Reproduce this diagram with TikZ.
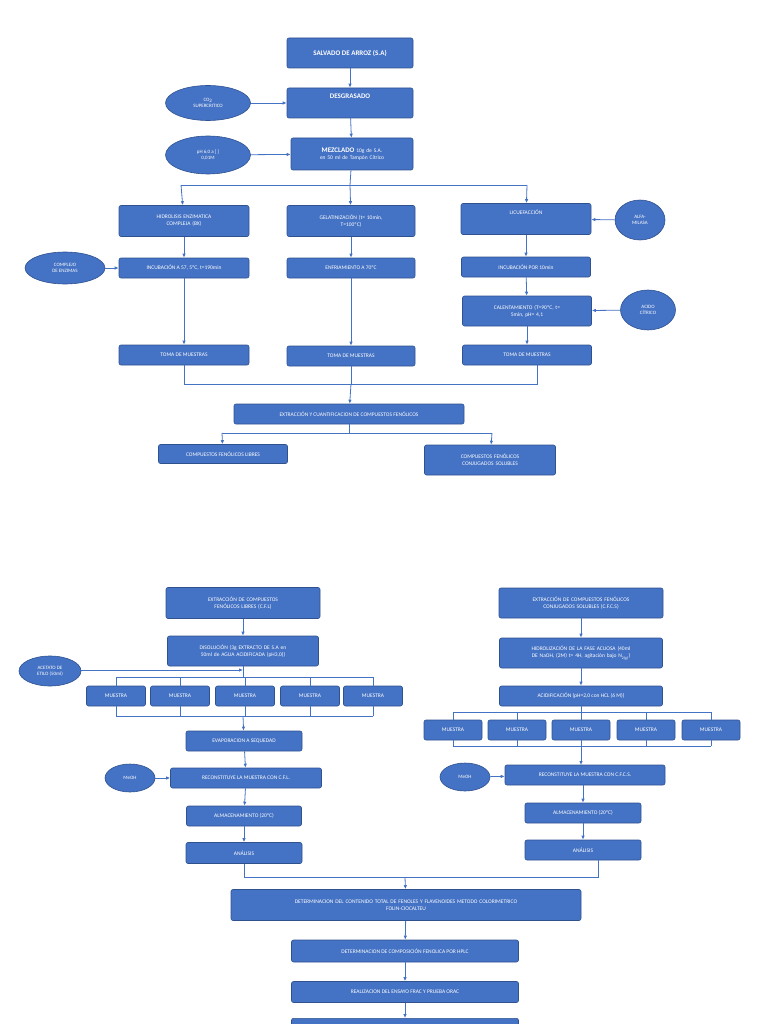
\documentclass[tikz,border=0pt]{standalone}
\usepackage{fontspec}
\setmainfont{Carlito}
\usetikzlibrary{arrows.meta,shapes.geometric}
\definecolor{bf}{HTML}{4472C4}
\definecolor{bd}{HTML}{2F528F}
\begin{document}
\begin{tikzpicture}[x=1pt,y=-1pt,
 bx/.style={draw=bd,fill=bf,rounded corners=2pt,text=white,font=\fontsize{5.5}{7}\selectfont,align=center,inner sep=1pt,line width=0.6pt},
 el/.style={draw=bd,fill=bf,ellipse,text=white,font=\fontsize{5}{6.5}\selectfont,align=center,inner sep=0pt,line width=0.6pt},
 ln/.style={draw=bf,line width=0.8pt},
 ar/.style={ln,-{Latex[length=4pt,width=3.5pt]}}]
\useasboundingbox (0,0) rectangle (768,1024);
\newcommand\bxn[7]{\node[bx,minimum width=#3,minimum height=#4,text width=#3-6] (#1) at (#2) {#5};}
% top
\node[bx,minimum width=126,minimum height=30,font=\fontsize{7}{8}\selectfont\bfseries] (sa) at (350,53) {SALVADO DE ARROZ (S.A)};
\node[bx,minimum width=126,minimum height=30,font=\fontsize{7}{8}\selectfont\bfseries] (des) at (350,103) {DESGRASADO\\[6pt]};
\node[el,minimum width=85,minimum height=35] (co2) at (208,103) {CO\textsubscript{2}\\SUPERCRITICO};
\node[bx,minimum width=122,minimum height=32,text width=118] (mez) at (352,154) {{\fontsize{7}{8}\selectfont\bfseries MEZCLADO} 10g de S.A. en 50 ml de Tampón Cítrico};
\node[el,minimum width=85,minimum height=38] (ph) at (208,155) {pH 6,0 a [ ]\\0,01M};
\node[bx,minimum width=130,minimum height=31,text width=120] (hid) at (184,221) {HIDROLISIS ENZIMATICA\\COMPLEJA (BX)};
\node[bx,minimum width=128,minimum height=31,text width=120] (gel) at (351,221) {GELATINIZACIÓN (t= 10min,\\T=100ºC)};
\node[bx,minimum width=130,minimum height=31] (lic) at (526,219) {LICUEFACCIÓN\\[6pt]};
\node[el,minimum width=50,minimum height=40] (alfa) at (640,220) {ALFA-\\MILASA};
\node[bx,minimum width=130,minimum height=20] (inc) at (184,268) {INCUBACIÓN A 57, 5ºC, t=190min};
\node[el,minimum width=80,minimum height=32] (comp) at (65,268) {COMPLEJO\\DE ENZIMAS};
\node[bx,minimum width=128,minimum height=20] (enf) at (351,268) {ENFRIAMIENTO A 70ºC};
\node[bx,minimum width=129,minimum height=20] (inc2) at (526,267) {INCUBACIÓN POR 10min};
\node[bx,minimum width=129,minimum height=30,text width=120] (cal) at (527,311) {CALENTAMIENTO (T=90ºC, t=\\5min, pH= 4,1};
\node[el,minimum width=55,minimum height=40] (aci) at (648,310) {ACIDO\\CÍTRICO};
\node[bx,minimum width=130,minimum height=20] (t1) at (184,355) {TOMA DE MUESTRAS};
\node[bx,minimum width=128,minimum height=20] (t2) at (351,356) {TOMA DE MUESTRAS};
\node[bx,minimum width=129,minimum height=20] (t3) at (527,355) {TOMA DE MUESTRAS};
\node[bx,minimum width=230,minimum height=20] (ext) at (349,414) {EXTRACCIÓN Y CUANTIFICACION DE COMPUESTOS FENÓLICOS};
\node[bx,minimum width=129,minimum height=19] (cfl) at (223,454) {COMPUESTOS FENÓLICOS LIBRES};
\node[bx,minimum width=131,minimum height=30,text width=125] (cfcs) at (490,460) {COMPUESTOS FENÓLICOS\\CONJUGADOS SOLUBLES};
\draw[ar] (sa) -- (des);
\draw[ar] (des) -- (mez);
\draw[ar] (co2) -- (des);
\draw[ar] (ph) -- (mez);
\coordinate (b1) at (350,185);
\draw[ln] (mez) -- (b1);
\draw[ln] (181,185) -- (527,185);
\draw[ar] (181,185) -- (hid);
\draw[ar] (b1) -- (gel);
\draw[ar] (527,185) -- (lic);
\draw[ar] (alfa) -- (lic);
\draw[ar] (hid) -- (inc);
\draw[ar] (comp) -- (inc);
\draw[ar] (gel) -- (enf);
\draw[ar] (lic) -- (inc2);
\draw[ar] (inc2) -- (cal);
\draw[ar] (aci) -- (cal);
\draw[ar] (inc) -- (t1);
\draw[ar] (enf) -- (t2);
\draw[ar] (cal) -- (t3);
\draw[ln] (t1.south) -- (184,384) -- (537,384) -- (537,365);
\draw[ln] (t2) -- (351,384);
\draw[ar] (351,384) -- (ext);
\draw[ln] (ext) -- (349,433);
\draw[ln] (222,433) -- (492,433);
\draw[ar] (222,433) -- (cfl);
\draw[ar] (492,433) -- (cfcs);
% bottom left
\node[bx,minimum width=154,minimum height=31,text width=140] (ecfl) at (243,603) {EXTRACCIÓN DE COMPUESTOS\\FENÓLICOS LIBRES (C.F.L)};
\node[bx,minimum width=151,minimum height=30,text width=145] (dis) at (243,651) {DISOLUCIÓN (3g EXTRACTO DE S.A en\\50ml de AGUA ACIDIFICADA (pH3,0))};
\node[el,minimum width=62,minimum height=30] (acet) at (50,671) {ACETATO DE\\ETILO (50ml)};
\foreach \i/\x in {1/116,2/180,3/245,4/310,5/373}{
 \node[bx,minimum width=59,minimum height=20] (m\i) at (\x,696) {MUESTRA};
 \draw[ln] (\x,677) -- (m\i.north);
 \draw[ln] (m\i.south) -- (\x,716);}
\draw[ln] (116,677) -- (373,677);
\draw[ln] (116,716) -- (373,716);
\node[bx,minimum width=116,minimum height=20] (eva) at (244,741) {EVAPORACION A SEQUEDAD};
\node[el,minimum width=50,minimum height=28] (meoh) at (130,778) {MeOH};
\node[bx,minimum width=151,minimum height=20] (rec) at (246,778) {RECONSTITUYE LA MUESTRA CON C.F.L.};
\node[bx,minimum width=115,minimum height=20] (alm) at (244,816) {ALMACENAMIENTO (20ºC)};
\node[bx,minimum width=116,minimum height=21] (ana) at (244,853) {ANÁLISIS};
\draw[ar] (ecfl) -- (dis);
\draw[ar] (acet.east |- 0,670) -- (243,670);
\draw[ln] (dis) -- (243,677);
\draw[ar] (243,716) -- (eva);
\draw[ar] (eva) -- (rec);
\draw[ar] (meoh) -- (rec);
\draw[ar] (rec) -- (alm);
\draw[ar] (alm) -- (ana);
% bottom right
\node[bx,minimum width=164,minimum height=30,text width=155] (ecfcs) at (581,603) {EXTRACCIÓN DE COMPUESTOS FENÓLICOS\\CONJUGADOS SOLUBLES (C.F.C.S)};
\node[bx,minimum width=163,minimum height=30,text width=158] (hdl) at (581,653) {HIDROLIZACIÓN DE LA FASE ACUOSA (40ml\\DE NaOH, (2M) t= 4H, agitación bajo N\textsubscript{2(g)})};
\node[bx,minimum width=163,minimum height=20] (acd) at (581,696) {ACIDIFICACIÓN (pH=2,0 con HCL (6 M))};
\foreach \i/\x in {1/453,2/517,3/581,4/646,5/711}{
 \node[bx,minimum width=58,minimum height=20] (n\i) at (\x,730) {MUESTRA};
 \draw[ln] (\x,712) -- (n\i.north);
 \draw[ln] (n\i.south) -- (\x,746);}
\draw[ln] (453,712) -- (711,712);
\draw[ln] (453,746) -- (711,746);
\node[el,minimum width=50,minimum height=28] (meoh2) at (465,777) {MeOH};
\node[bx,minimum width=160,minimum height=20] (rec2) at (585,775) {RECONSTITUYE LA MUESTRA CON C.F.C.S.};
\node[bx,minimum width=116,minimum height=20] (alm2) at (583,813) {ALMACENAMIENTO (20ºC)};
\node[bx,minimum width=116,minimum height=20] (ana2) at (583,850) {ANÁLISIS};
\draw[ar] (ecfcs) -- (hdl);
\draw[ar] (hdl) -- (acd);
\draw[ln] (acd.south) -- (581,712);
\draw[ar] (581,746) -- (581,765);
\draw[ar] (meoh2) -- (rec2);
\draw[ar] (rec2.south -| 583,0) -- (alm2);
\draw[ar] (alm2) -- (ana2);
% final
\node[bx,minimum width=350,minimum height=31,text width=340] (det) at (406,905) {DETERMINACION DEL CONTENIDO TOTAL DE FENOLES Y FLAVENOIDES METODO COLORIMETRICO\\FOLIN-CIOCALTEU};
\node[bx,minimum width=227,minimum height=22] (hplc) at (405,951) {DETERMINACION DE COMPOSICIÓN FENOLICA POR HPLC};
\node[bx,minimum width=227,minimum height=21] (frac) at (405,992) {REALIZACION DEL ENSAYO FRAC Y PRUEBA ORAC};
\node[bx,minimum width=227,minimum height=20,anchor=north] (last) at (405,1018) {};
\draw[ln] (ana.south) -- (244,877) -- (598,877) -- (598,860);
\draw[ar] (405,877) -- (det);
\draw[ar] (det) -- (hplc);
\draw[ar] (hplc) -- (frac);
\draw[ar] (frac) -- (last);
\end{tikzpicture}
\end{document}
